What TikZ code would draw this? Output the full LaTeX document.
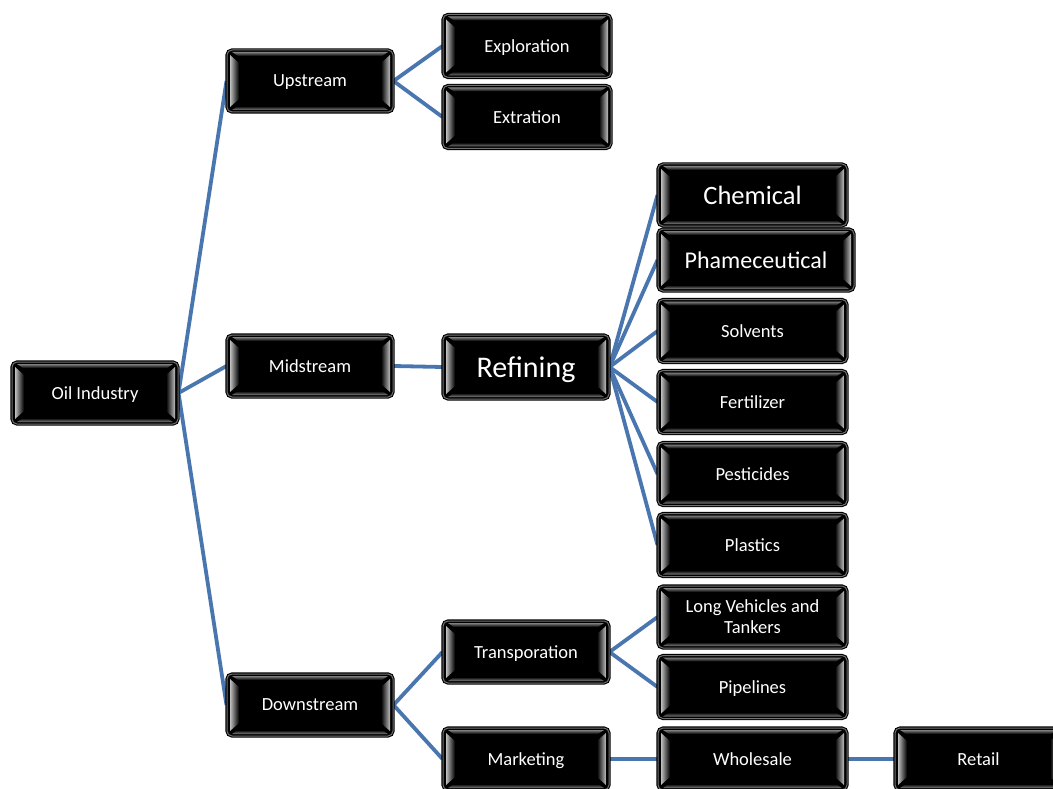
\documentclass[tikz,border=0pt]{standalone}
\usepackage{fontspec}
\setmainfont{Carlito}
\usetikzlibrary{backgrounds}
\definecolor{lineblue}{HTML}{4A76B0}
\tikzset{
  bx/.style={rounded corners=5pt, fill=black, draw=black!55, line width=1pt,
    preaction={draw=black, line width=3.2pt},
    text=white, font=\fontsize{18.5}{21}\selectfont, align=center,
    inner sep=0pt, minimum width=166pt, minimum height=62pt, text depth=0pt,
    path picture={
      \path (path picture bounding box.south west) coordinate (@sw)
            (path picture bounding box.north east) coordinate (@ne);
      \fill[sharp corners, left color=black!25, right color=black]
        ([xshift=3pt,yshift=5pt]@sw) -- ([xshift=12pt,yshift=13pt]@sw)
        -- ([xshift=12pt,yshift=-13pt]@sw|-@ne) -- ([xshift=3pt,yshift=-5pt]@sw|-@ne) -- cycle;
      \fill[sharp corners, right color=black!25, left color=black]
        ([xshift=-3pt,yshift=5pt]@ne|-@sw) -- ([xshift=-12pt,yshift=13pt]@ne|-@sw)
        -- ([xshift=-12pt,yshift=-13pt]@ne) -- ([xshift=-3pt,yshift=-5pt]@ne) -- cycle;
      \fill[sharp corners, top color=black!50, bottom color=black]
        ([xshift=5pt,yshift=-2pt]@sw|-@ne) -- ([xshift=-5pt,yshift=-2pt]@ne) -- ([xshift=-11pt,yshift=-6pt]@ne) -- ([xshift=11pt,yshift=-6pt]@sw|-@ne) -- cycle;
      \fill[sharp corners, bottom color=black!50, top color=black]
        ([xshift=5pt,yshift=2pt]@sw) -- ([xshift=-5pt,yshift=2pt]@ne|-@sw) -- ([xshift=-11pt,yshift=6pt]@ne|-@sw) -- ([xshift=11pt,yshift=6pt]@sw) -- cycle;
    }},
  wide/.style={minimum width=189pt},
  conn/.style={draw=lineblue, line width=3.8pt}
}
\begin{document}
\begin{tikzpicture}[x=1pt,y=-1pt]
\useasboundingbox (0,0) rectangle (1053,789);
\node[bx] (oil) at (95,393) {Oil Industry};
\node[bx] (up) at (310,81) {Upstream};
\node[bx] (mid) at (310,366) {Midstream};
\node[bx] (down) at (310,705) {Downstream};
\node[bx, minimum width=168pt, minimum height=63pt] (expl) at (527,46) {Exploration};
\node[bx, minimum width=168pt, minimum height=63pt] (extr) at (527,117) {Extration};
\node[bx, minimum height=64pt, font=\fontsize{30}{34}\selectfont] (ref) at (526,367) {Refining};
\node[bx] (trans) at (526,652) {Transporation};
\node[bx] (mkt) at (526,759) {Marketing};
\node[bx, wide, font=\fontsize{26.5}{30}\selectfont] (chem) at (752.5,195) {Chemical};
\node[bx, minimum width=196pt, font=\fontsize{24}{28}\selectfont] (pharm) at (756,260) {Phameceutical};
\node[bx, wide, minimum height=63pt] (solv) at (752.5,331) {Solvents};
\node[bx, wide, minimum height=63pt] (fert) at (752.5,402) {Fertilizer};
\node[bx, wide, minimum height=63pt] (pest) at (752.5,474) {Pesticides};
\node[bx, wide, minimum height=63pt] (plas) at (752.5,545) {Plastics};
\node[bx, wide] (long) at (752.5,617) {Long Vehicles and\\Tankers};
\node[bx, wide, minimum height=63pt] (pipe) at (752.5,687) {Pipelines};
\node[bx, wide] (whole) at (752.5,759) {Wholesale};
\node[bx, minimum width=167pt] (ret) at (978.5,759) {Retail};
\begin{scope}[on background layer]
\draw[conn] (oil.east) -- (up.west);
\draw[conn] (oil.east) -- (mid.west);
\draw[conn] (oil.east) -- (down.west);
\draw[conn] (up.east) -- (expl.west);
\draw[conn] (up.east) -- (extr.west);
\draw[conn] (mid.east) -- (ref.west);
\draw[conn] (ref.east) -- (chem.west);
\draw[conn] (ref.east) -- (pharm.west);
\draw[conn] (ref.east) -- (solv.west);
\draw[conn] (ref.east) -- (fert.west);
\draw[conn] (ref.east) -- (pest.west);
\draw[conn] (ref.east) -- (plas.west);
\draw[conn] (down.east) -- (trans.west);
\draw[conn] (down.east) -- (mkt.west);
\draw[conn] (trans.east) -- (long.west);
\draw[conn] (trans.east) -- (pipe.west);
\draw[conn] (mkt.east) -- (whole.west);
\draw[conn] (whole.east) -- (ret.west);
\end{scope}
\end{tikzpicture}
\end{document}
